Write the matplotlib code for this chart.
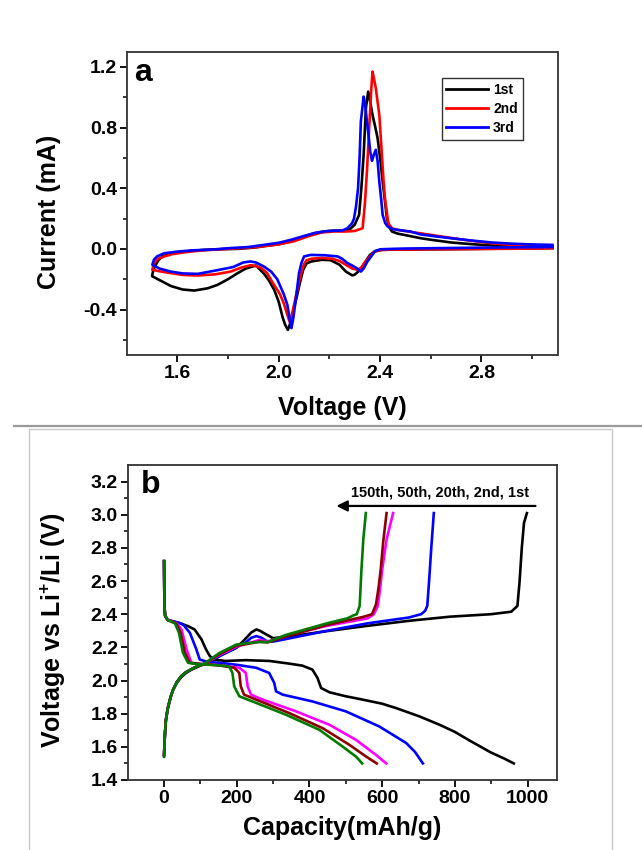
import matplotlib
matplotlib.use('Agg')
import matplotlib.pyplot as plt
from matplotlib.lines import Line2D
from matplotlib.patches import Rectangle

plt.rcParams['font.family'] = ['Liberation Sans', 'DejaVu Sans']
plt.rcParams['font.weight'] = 'bold'
plt.rcParams['axes.unicode_minus'] = False
plt.rcParams['mathtext.fontset'] = 'custom'
plt.rcParams['mathtext.rm'] = 'Liberation Sans:bold'
plt.rcParams['mathtext.bf'] = 'Liberation Sans:bold'

# ---- (a) cyclic voltammetry, cathodic sweep first then anodic sweep ----
cv_labels = ['1st', '2nd', '3rd']
cv_colors = ['black', 'red', 'blue']

cv1_v = [3.08, 2.80, 2.60, 2.45, 2.41, 2.38, 2.36, 2.34, 2.32, 2.30, 2.29, 2.265, 2.24, 2.205, 2.17, 2.13,
         2.11, 2.096, 2.084, 2.072, 2.06, 2.05, 2.036, 2.025, 2.015, 2.0, 1.982, 1.96, 1.94, 1.91,
         1.87, 1.838, 1.80, 1.759, 1.72, 1.667, 1.62, 1.574, 1.54, 1.50,
         1.505, 1.513, 1.525, 1.541, 1.57, 1.60, 1.65, 1.706, 1.78, 1.84, 1.90, 1.95, 2.00, 2.05, 2.10,
         2.14, 2.18, 2.22, 2.26, 2.278, 2.30, 2.317, 2.326, 2.335, 2.344, 2.353, 2.362, 2.370, 2.380,
         2.390, 2.40, 2.41, 2.42, 2.427, 2.437, 2.447, 2.47, 2.495, 2.56, 2.60, 2.68, 2.76, 2.85,
         2.925, 3.00, 3.08]
cv1_i = [0.005, 0.0, -0.003, -0.005, -0.006, -0.015, -0.04, -0.09, -0.14, -0.17, -0.175, -0.15, -0.105, -0.075, -0.072, -0.083,
         -0.095, -0.14, -0.22, -0.31, -0.39, -0.47, -0.534, -0.50, -0.45, -0.35, -0.27, -0.205, -0.16, -0.11,
         -0.13, -0.16, -0.20, -0.237, -0.26, -0.275, -0.268, -0.245, -0.215, -0.18,
         -0.14, -0.11, -0.075, -0.05, -0.034, -0.024, -0.014, -0.007, -0.002, 0.0, 0.008, 0.02, 0.03, 0.05, 0.08,
         0.103, 0.115, 0.12, 0.12, 0.125, 0.16, 0.224, 0.40, 0.62, 0.93, 1.037, 0.96, 0.883, 0.81,
         0.73, 0.60, 0.444, 0.30, 0.20, 0.14, 0.114, 0.10, 0.092, 0.07, 0.06, 0.042, 0.031, 0.021,
         0.015, 0.011, 0.009]

cv2_v = [3.08, 2.80, 2.60, 2.45, 2.40, 2.377, 2.36, 2.34, 2.325, 2.311, 2.29, 2.27, 2.24, 2.21, 2.17, 2.13,
         2.11, 2.10, 2.09, 2.08, 2.068, 2.055, 2.044, 2.035, 2.02, 2.005, 1.994, 1.975, 1.954, 1.93,
         1.90, 1.888, 1.85, 1.81, 1.75, 1.68, 1.62, 1.574, 1.53, 1.501,
         1.508, 1.525, 1.548, 1.58, 1.63, 1.70, 1.78, 1.85, 1.92, 2.00, 2.06, 2.12, 2.17, 2.22, 2.258,
         2.30, 2.331, 2.34, 2.348, 2.357, 2.365, 2.370, 2.376, 2.383, 2.390, 2.397, 2.407, 2.413, 2.419,
         2.432, 2.447, 2.47, 2.52, 2.60, 2.68, 2.76, 2.84, 2.92, 3.00, 3.08]
cv2_i = [0.003, -0.001, -0.003, -0.005, -0.008, -0.02, -0.05, -0.09, -0.125, -0.138, -0.13, -0.11, -0.08, -0.065, -0.06, -0.065,
         -0.075, -0.10, -0.15, -0.22, -0.31, -0.41, -0.485, -0.44, -0.36, -0.30, -0.27, -0.22, -0.16, -0.125,
         -0.11, -0.108, -0.125, -0.15, -0.168, -0.176, -0.172, -0.16, -0.148, -0.138,
         -0.094, -0.065, -0.05, -0.035, -0.022, -0.01, -0.002, 0.004, 0.012, 0.03, 0.05, 0.085, 0.108, 0.115, 0.114,
         0.118, 0.136, 0.30, 0.51, 0.80, 1.05, 1.169, 1.12, 1.06, 0.97, 0.88, 0.62, 0.46, 0.334,
         0.17, 0.135, 0.125, 0.112, 0.092, 0.072, 0.053, 0.037, 0.026, 0.019, 0.015]

cv3_v = [3.08, 2.80, 2.60, 2.50, 2.45, 2.40, 2.38, 2.365, 2.35, 2.335, 2.324, 2.31, 2.29, 2.271, 2.25, 2.232,
         2.18, 2.126, 2.10, 2.09, 2.08, 2.067, 2.058, 2.05, 2.045, 2.034, 2.02, 2.007, 1.994, 1.97,
         1.941, 1.91, 1.888, 1.86, 1.82, 1.76, 1.68, 1.62, 1.574, 1.53, 1.501,
         1.508, 1.52, 1.548, 1.60, 1.66, 1.75, 1.809, 1.88, 1.941, 2.00, 2.047, 2.10, 2.139, 2.18, 2.205,
         2.25, 2.271, 2.29, 2.297, 2.305, 2.313, 2.319, 2.324, 2.335, 2.341, 2.348, 2.355, 2.361, 2.368,
         2.375, 2.383, 2.39, 2.397, 2.404, 2.41, 2.42, 2.43, 2.45, 2.469, 2.52, 2.56, 2.62, 2.68,
         2.76, 2.84, 2.92, 3.00, 3.08]
cv3_i = [0.012, 0.008, 0.004, 0.002, 0.0, -0.003, -0.015, -0.05, -0.083, -0.13, -0.15, -0.13, -0.11, -0.094, -0.065, -0.05,
         -0.042, -0.04, -0.05, -0.09, -0.16, -0.336, -0.45, -0.523, -0.48, -0.37, -0.30, -0.25, -0.20, -0.15,
         -0.116, -0.09, -0.083, -0.09, -0.12, -0.14, -0.165, -0.162, -0.15, -0.13, -0.105,
         -0.07, -0.05, -0.029, -0.018, -0.01, -0.003, 0.005, 0.012, 0.026, 0.04, 0.059, 0.085, 0.103, 0.115, 0.119,
         0.12, 0.136, 0.17, 0.20, 0.28, 0.40, 0.60, 0.84, 1.004, 0.95, 0.84, 0.74, 0.64, 0.58,
         0.62, 0.653, 0.58, 0.44, 0.33, 0.224, 0.17, 0.147, 0.13, 0.125, 0.114, 0.095, 0.082, 0.07,
         0.055, 0.042, 0.034, 0.029, 0.026]

# ---- (b) galvanostatic discharge / charge profiles ----
gc_colors = ['black', 'blue', '#ff00ff', '#8b0000', '#007a00']

dis1_c = [0, 1, 3, 10, 39, 66, 84, 103, 115, 126, 140, 170, 225, 290, 344, 380, 408, 422, 432, 455, 500, 546, 600, 638, 702, 758, 800, 842, 899, 935, 962]
dis1_v = [2.72, 2.45, 2.39, 2.365, 2.349, 2.328, 2.308, 2.248, 2.19, 2.147, 2.125, 2.118, 2.123, 2.118, 2.102, 2.09, 2.066, 2.016, 1.955, 1.929, 1.905, 1.885, 1.86, 1.834, 1.784, 1.733, 1.69, 1.636, 1.566, 1.53, 1.50]
dis2_c = [0, 1, 3, 10, 39, 52, 71, 89, 98, 120, 151, 200, 253, 289, 303, 308, 326, 408, 500, 592, 666, 690, 712]
dis2_v = [2.72, 2.45, 2.39, 2.365, 2.349, 2.339, 2.288, 2.187, 2.127, 2.112, 2.107, 2.095, 2.077, 2.046, 1.986, 1.935, 1.915, 1.874, 1.814, 1.723, 1.623, 1.57, 1.50]
dis20_c = [0, 1, 3, 10, 35, 48, 62, 75, 100, 133, 180, 207, 225, 230, 239, 271, 363, 455, 528, 583, 611]
dis20_v = [2.72, 2.45, 2.39, 2.365, 2.345, 2.308, 2.187, 2.107, 2.10, 2.096, 2.085, 2.077, 2.046, 1.965, 1.915, 1.885, 1.814, 1.733, 1.642, 1.551, 1.50]
dis50_c = [0, 1, 3, 10, 33, 45, 57, 70, 100, 150, 193, 207, 211, 220, 253, 344, 436, 510, 556, 585]
dis50_v = [2.72, 2.45, 2.39, 2.365, 2.345, 2.29, 2.17, 2.107, 2.10, 2.092, 2.077, 2.046, 1.965, 1.915, 1.885, 1.804, 1.713, 1.612, 1.541, 1.50]
dis150_c = [0, 1, 3, 10, 30, 41, 52, 66, 90, 140, 179, 188, 193, 207, 243, 335, 427, 491, 528, 545]
dis150_v = [2.72, 2.45, 2.39, 2.365, 2.345, 2.288, 2.167, 2.107, 2.10, 2.093, 2.086, 2.046, 1.965, 1.905, 1.874, 1.794, 1.703, 1.602, 1.541, 1.50]

chg1_c = [0, 2, 5, 10, 18, 25, 35, 47, 60, 75, 95, 126, 160, 199, 218, 240, 254, 264, 273, 300, 335, 383, 448, 560, 673, 786, 899, 955, 972, 978, 984, 990, 998]
chg1_v = [1.55, 1.66, 1.76, 1.83, 1.90, 1.945, 1.985, 2.02, 2.045, 2.065, 2.085, 2.115, 2.155, 2.197, 2.238, 2.29, 2.308, 2.30, 2.288, 2.255, 2.265, 2.278, 2.298, 2.33, 2.36, 2.385, 2.40, 2.415, 2.45, 2.6, 2.8, 2.95, 3.01]
chg2_c = [0, 2, 5, 10, 18, 25, 35, 47, 60, 75, 90, 109, 153, 199, 225, 240, 254, 268, 282, 300, 335, 448, 560, 673, 707, 718, 724, 729, 735, 742]
chg2_v = [1.55, 1.66, 1.76, 1.83, 1.90, 1.945, 1.99, 2.026, 2.05, 2.068, 2.085, 2.098, 2.15, 2.20, 2.23, 2.258, 2.268, 2.258, 2.238, 2.235, 2.25, 2.30, 2.345, 2.38, 2.40, 2.42, 2.45, 2.6, 2.8, 3.01]
chg20_c = [0, 2, 5, 10, 18, 25, 35, 47, 60, 75, 90, 109, 153, 199, 240, 262, 285, 335, 448, 560, 577, 588, 594, 600, 612, 630]
chg20_v = [1.55, 1.66, 1.76, 1.83, 1.90, 1.945, 1.99, 2.026, 2.05, 2.068, 2.085, 2.098, 2.155, 2.205, 2.23, 2.245, 2.235, 2.27, 2.33, 2.375, 2.40, 2.45, 2.55, 2.67, 2.85, 3.01]
chg50_c = [0, 2, 5, 10, 18, 25, 35, 47, 60, 75, 90, 109, 153, 199, 240, 262, 285, 335, 448, 550, 572, 583, 590, 596, 603, 612]
chg50_v = [1.55, 1.66, 1.76, 1.83, 1.90, 1.945, 1.99, 2.026, 2.05, 2.068, 2.085, 2.098, 2.16, 2.21, 2.225, 2.235, 2.23, 2.265, 2.335, 2.385, 2.40, 2.46, 2.56, 2.67, 2.84, 3.01]
chg150_c = [0, 2, 5, 10, 18, 25, 35, 47, 60, 75, 90, 109, 153, 199, 240, 262, 285, 335, 448, 504, 520, 530, 538, 543, 548, 555]
chg150_v = [1.54, 1.66, 1.76, 1.83, 1.90, 1.945, 1.99, 2.026, 2.05, 2.068, 2.085, 2.10, 2.167, 2.217, 2.228, 2.232, 2.232, 2.275, 2.345, 2.375, 2.392, 2.40, 2.45, 2.67, 2.85, 3.01]

W, H = 642, 850
fig = plt.figure(figsize=(W / 100, H / 100), dpi=100)


def px_axes(left, top, right, bottom):
    return fig.add_axes([left / W, 1 - bottom / H, (right - left) / W, (bottom - top) / H])


def style(ax):
    for sp in ax.spines.values():
        sp.set_linewidth(1.3)
        sp.set_color('#333333')
    ax.tick_params(which='major', direction='out', length=5, width=1.3, labelsize=14, pad=2)
    ax.tick_params(which='minor', direction='out', length=3, width=1.1)
    ax.tick_params(top=False, right=False)
    for lab in ax.get_xticklabels() + ax.get_yticklabels():
        lab.set_fontweight('bold')


# panel a
ax1 = px_axes(126.7, 51.7, 557.5, 355)
cv_v = [cv1_v, cv2_v, cv3_v]
cv_i = [cv1_i, cv2_i, cv3_i]
for v, i, c in zip(cv_v, cv_i, cv_colors):
    ax1.plot(v, i, color=c, lw=1.9, solid_joinstyle='round')
ax1.set_xlim(1.4, 3.1)
ax1.set_ylim(-0.7, 1.3)
ax1.set_xticks([1.6, 2.0, 2.4, 2.8])
ax1.set_xticks([1.8, 2.2, 2.6, 3.0], minor=True)
ax1.set_yticks([-0.4, 0.0, 0.4, 0.8, 1.2])
ax1.set_yticks([-0.6, -0.2, 0.2, 0.6, 1.0], minor=True)
style(ax1)
ax1.set_xlabel('Voltage (V)', fontsize=18, fontweight='bold', va='center')
ax1.xaxis.set_label_coords(0.5, -0.175)
ax1.set_ylabel('Current (mA)', fontsize=18, fontweight='bold', va='center')
ax1.yaxis.set_label_coords(-0.18, 0.472)
ax1.text(0.038, 0.931, 'a', transform=ax1.transAxes, fontsize=23, fontweight='bold', ha='center', va='center')
handles = [Line2D([], [], color=c, lw=2) for c in cv_colors]
leg = ax1.legend(handles, cv_labels, loc='upper left', bbox_to_anchor=(0.731, 0.913), frameon=True,
                 fancybox=False, edgecolor='black', fontsize=10, handlelength=3.0, handletextpad=0.35,
                 labelspacing=0.35, borderpad=0.35, borderaxespad=0)
leg.get_frame().set_linewidth(1.0)
for t in leg.get_texts():
    t.set_fontweight('bold')

# separator and frame around panel b
fig.add_artist(Line2D([14 / W, 1.0], [1 - 425.5 / H, 1 - 425.5 / H], transform=fig.transFigure,
                      color='#9a9a9a', lw=1.6))
fig.add_artist(Rectangle((28.5 / W, -0.01), (612 - 28.5) / W, 1 - 429 / H + 0.01, transform=fig.transFigure,
                         fill=False, edgecolor='#c8c8c8', lw=1.0))

# panel b
ax2 = px_axes(127.7, 465, 556.7, 780)
dis_c = [dis1_c, dis2_c, dis20_c, dis50_c, dis150_c]
dis_v = [dis1_v, dis2_v, dis20_v, dis50_v, dis150_v]
chg_c = [chg1_c, chg2_c, chg20_c, chg50_c, chg150_c]
chg_v = [chg1_v, chg2_v, chg20_v, chg50_v, chg150_v]
for dc, dv, cc, cvv, col in zip(dis_c, dis_v, chg_c, chg_v, gc_colors):
    ax2.plot(dc, dv, color=col, lw=1.9, solid_joinstyle='round')
    ax2.plot(cc, cvv, color=col, lw=1.9, solid_joinstyle='round')
ax2.set_xlim(-100, 1080)
ax2.set_ylim(1.4, 3.3)
ax2.set_xticks([0, 200, 400, 600, 800, 1000])
ax2.set_xticks([100, 300, 500, 700, 900], minor=True)
ax2.set_yticks([1.4, 1.6, 1.8, 2.0, 2.2, 2.4, 2.6, 2.8, 3.0, 3.2])
ax2.set_yticks([1.5, 1.7, 1.9, 2.1, 2.3, 2.5, 2.7, 2.9, 3.1], minor=True)
style(ax2)
ax2.set_xlabel('Capacity(mAh/g)', fontsize=18, fontweight='bold', va='center')
ax2.xaxis.set_label_coords(0.5, -0.152)
ax2.set_ylabel('Voltage vs Li$^{+}$/Li (V)', fontsize=18, fontweight='bold', va='center')
ax2.yaxis.set_label_coords(-0.174, 0.474)
ax2.text(0.053, 0.937, 'b', transform=ax2.transAxes, fontsize=23, fontweight='bold', ha='center', va='center')
ax2.text(0.728, 0.912, '150th, 50th, 20th, 2nd, 1st', transform=ax2.transAxes, fontsize=10.5,
         fontweight='bold', ha='center', va='center')
ax2.annotate('', xy=(0.48, 0.87), xytext=(0.957, 0.87), xycoords='axes fraction',
             arrowprops=dict(arrowstyle='-|>', color='black', lw=1.6, mutation_scale=16))

fig.savefig('out.png', dpi=100)
